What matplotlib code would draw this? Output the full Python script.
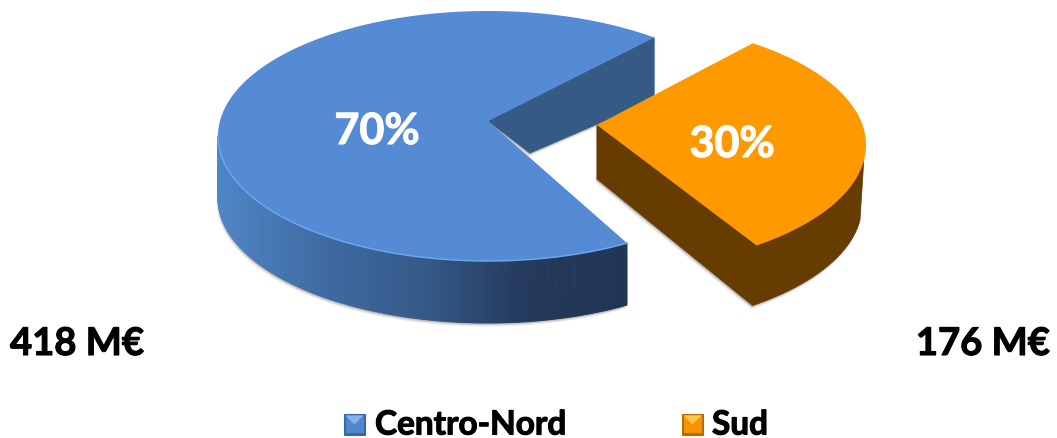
import numpy as np
import matplotlib
matplotlib.use("Agg")
import matplotlib.pyplot as plt
import matplotlib.patheffects as pe
from matplotlib.colors import LinearSegmentedColormap
from matplotlib.patches import Polygon, Rectangle

plt.rcParams['font.family'] = ['Lato', 'DejaVu Sans']

# data
categories = ['Centro-Nord', 'Sud']
shares = [70, 30]
amount_labels = ['418 M€', '176 M€']

W, H = 1057, 439
RX, RY = 270, 125
DEPTH = 62
START = 54.5  # angle where Sud's upper edge sits, going clockwise

fig = plt.figure(figsize=(W / 100, H / 100), dpi=100)
ax = fig.add_axes([0, 0, 1, 1])
ax.set_xlim(0, W)
ax.set_ylim(H, 0)
ax.axis('off')


def rim(cx, cy, a0, a1, n=200):
    t = np.radians(np.linspace(a0, a1, n))
    return np.column_stack([cx + RX * np.cos(t), cy - RY * np.sin(t)])


def draw_side(cx, cy, a0, a1, cmap, x0, x1, zorder):
    # outer wall, only the part facing the viewer, cut in thin strips
    pts = rim(cx, cy, a0, a1, 260)
    for p, q in zip(pts[:-1], pts[1:]):
        col = cmap(np.clip((0.5 * (p[0] + q[0]) - x0) / (x1 - x0), 0, 1))
        ax.add_patch(Polygon([p, q, q + [0, DEPTH], p + [0, DEPTH]], closed=True,
                             fc=col, ec=col, lw=0.6, zorder=zorder))


def draw_shadow(pts, zorder):
    for off, alpha in [(3.5, 0.12), (2.2, 0.2), (1.0, 0.3)]:
        ax.add_patch(Polygon(pts + [-off * 0.4, off], closed=True, fc='#555555',
                             ec='none', alpha=alpha, zorder=zorder))


def bold_text(x, y, s, size, color='black', ha='left', stroke=0.8, zorder=8):
    # Lato bold is lighter than the original face, so thicken it a little
    t = ax.text(x, y, s, color=color, fontsize=size, fontweight='bold',
                ha=ha, va='center', zorder=zorder)
    t.set_path_effects([pe.withStroke(linewidth=stroke, foreground=color)])


blue_side = LinearSegmentedColormap.from_list('b', ['#4f86c6', '#3f6ba3', '#355a88', '#24395c', '#203553'])

sweep_sud = 360 * shares[1] / sum(shares)
sweep_nord = 360 * shares[0] / sum(shares)

# Centro-Nord
cx, cy = 488, 137
apex = np.array([488.0, 122.0])
a0 = START - 2.5
a1 = a0 + sweep_nord - 3
top = rim(cx, cy, a0, a1)
start_pt, end_pt = top[0], top[-1]
base = top + [0, DEPTH]
inner_bottom = np.array([530.0, 154.0])
draw_shadow(np.vstack([base[base[:, 1] > cy + DEPTH - 5], end_pt + [0, DEPTH]]), 1)
draw_shadow(np.array([start_pt + [0, DEPTH], inner_bottom, apex]), 1)
ax.add_patch(Polygon([apex, start_pt, start_pt + [0, DEPTH], inner_bottom], closed=True,
                     fc='#355a86', ec='#355a86', lw=0.5, zorder=2))
draw_side(cx, cy, 180, a1, blue_side, 218, 628, 2)
ax.add_patch(Polygon(np.vstack([apex, top]), closed=True, fc='#548bd4', ec='none', zorder=3))
front = rim(cx, cy, 180, a1)
ax.plot(front[:, 0], front[:, 1], color='#6aa6ee', lw=1.1, zorder=4)

# Sud
cx2, cy2 = 596, 146
apex2 = np.array([597.0, 126.0])
top2 = rim(cx2, cy2, START, START - sweep_sud)
base2 = rim(cx2, cy2, -7, START - sweep_sud) + [-4, 60]
side2 = np.vstack([apex2, apex2 + [0, 54], base2[::-1], top2[top2[:, 1] > cy2 + 15][:1]])
draw_shadow(side2, 1)
ax.add_patch(Polygon(side2, closed=True, fc='#663c00', ec='#663c00', lw=0.5, zorder=5))
ax.add_patch(Polygon(np.vstack([apex2, top2]), closed=True, fc='#ff9900', ec='none', zorder=6))

# percent labels
bold_text(377, 132, f'{shares[0]}%', 31, color='white', ha='center')
bold_text(732, 145, f'{shares[1]}%', 31, color='white', ha='center')

# amounts
bold_text(10, 345, amount_labels[0], 27.5)
bold_text(1050, 345, amount_labels[1], 27.5, ha='right')


# legend
def legend_key(x, y, s, face, light, dark):
    ax.add_patch(Rectangle((x, y), s, s, fc=dark, ec=dark, lw=0.8))
    ax.add_patch(Rectangle((x + 1.5, y + 1.5), s - 3, s - 3, fc=face, ec='none'))
    ax.add_patch(Polygon([(x + 1.5, y + 1.5), (x + s - 1.5, y + 1.5), (x + s / 2, y + s / 2)],
                         closed=True, fc=light, ec='none'))


legend_key(344, 415, 21, '#4f86cc', '#86b4ea', '#3a689f')
bold_text(375, 426, categories[0], 24)
legend_key(682, 415, 21, '#f59300', '#ffc84a', '#b56c00')
bold_text(712, 426, categories[1], 24)

fig.savefig('out.png', dpi=100, facecolor='white')
